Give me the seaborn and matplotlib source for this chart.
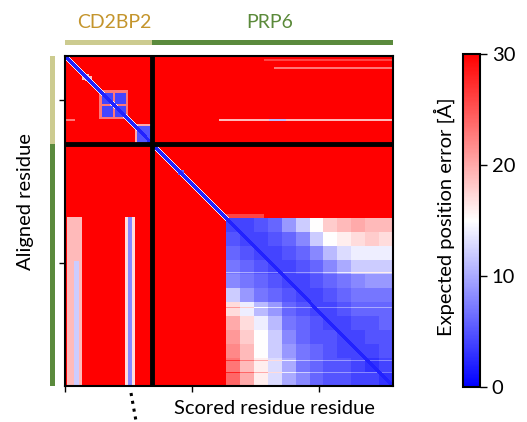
"""
PAE plot for the CD2BP2 / PRP6 complex (AlphaFold-style expected position error).
"""

import numpy as np
import matplotlib.pyplot as plt
import matplotlib.transforms as mtransforms
from matplotlib.patches import Rectangle
from matplotlib.lines import Line2D
import seaborn as sns

# ---------------------------------------------------------------------------
# Data (residue index units, rows = aligned, cols = scored)
# ---------------------------------------------------------------------------
chains = ["CD2BP2", "PRP6"]
chain_lengths = [88, 242]
chain_text_colors = ["#c4952c", "#5b8a3a"]
chain_bar_colors = ["#cccb8f", "#5a8a3c"]

background_pae = 30.0
diagonal_pae = 2.0
diagonal_halo_pae = 14.0

# rectangles: (row_start, row_end, col_start, col_end, pae)
pae_blocks = [
    # CD2BP2 intra-chain
    (18, 25, 20, 24, 19), (20, 24, 17, 27, 19),
    (34, 63, 34, 63, 23),
    (37, 48, 37, 48, 4), (37, 48, 50, 61, 4),
    (50, 61, 37, 48, 4), (50, 61, 50, 61, 4),
    (68, 88, 70, 88, 20),
    (70, 87, 72, 87, 5),
    (63, 65, 0, 10, 23),
    # CD2BP2 rows x PRP6 cols
    (3, 5, 200, 330, 26),
    (11, 13, 210, 330, 23),
    (63, 65, 155, 330, 19),
    (63, 65, 205, 222, 11),
    # PRP6 rows x CD2BP2 cols
    (161, 330, 2, 17, 19),
    (205, 330, 9, 14, 12),
    (161, 330, 60, 70, 17),
    (161, 330, 63, 67, 8),
    # PRP6 diagonal blob + edge above the folded domain
    (114, 119, 114, 120, 6),
    (158, 162, 160, 200, 26),
]

# folded PRP6 domain, coarse 12x12 grid (rows top->bottom, cols left->right)
domain_start = 162
domain_band = 14
domain_pae = [
    [4, 4, 5, 6, 9, 12, 15, 18, 19, 20, 19, 19],
    [5, 4, 4, 5, 6, 8, 12, 15, 16, 17, 18, 17],
    [6, 5, 4, 4, 5, 6, 8, 11, 13, 14, 14, 14],
    [7, 6, 5, 4, 4, 5, 6, 8, 10, 12, 12, 12],
    [8, 7, 6, 5, 4, 4, 5, 6, 7, 8, 9, 9],
    [12, 9, 7, 6, 5, 4, 4, 5, 6, 7, 7, 7],
    [17, 14, 11, 9, 6, 5, 4, 4, 5, 6, 6, 6],
    [20, 17, 14, 11, 7, 6, 5, 4, 4, 5, 5, 6],
    [21, 18, 15, 12, 8, 6, 5, 5, 4, 4, 5, 5],
    [22, 19, 15, 12, 9, 7, 6, 5, 4, 4, 4, 5],
    [23, 19, 16, 13, 10, 7, 6, 5, 5, 4, 3, 4],
    [24, 20, 16, 13, 10, 8, 6, 5, 5, 4, 4, 3],
]
domain_stripe_rows = [216, 251, 304, 316]
stripe_pae_shift = 4

# ---------------------------------------------------------------------------
n_total = sum(chain_lengths)
pae = np.full((n_total, n_total), background_pae)

for r0, r1, c0, c1, v in pae_blocks:
    pae[r0:r1, c0:c1] = v

dom = np.repeat(np.repeat(np.array(domain_pae, float), domain_band, axis=0),
                domain_band, axis=1)
d1 = domain_start + dom.shape[0]
pae[domain_start:d1, domain_start:d1] = dom
for r in domain_stripe_rows:
    pae[r, domain_start:d1] = np.minimum(pae[r, domain_start:d1] + stripe_pae_shift, 30)

# self-alignment along the diagonal (low core with a light halo)
idx = np.arange(n_total)
for k, v in ((-3, diagonal_halo_pae), (3, diagonal_halo_pae),
             (-2, diagonal_pae), (-1, diagonal_pae), (0, diagonal_pae),
             (1, diagonal_pae), (2, diagonal_pae)):
    ok = (idx + k >= 0) & (idx + k < n_total)
    pae[idx[ok], idx[ok] + k] = np.minimum(pae[idx[ok], idx[ok] + k], v)

# ---------------------------------------------------------------------------
plt.rcParams['font.family'] = ['Lato', 'DejaVu Sans']
plt.rcParams['font.size'] = 14.5

W, H = 527, 422
fig = plt.figure(figsize=(W / 100, H / 100), dpi=100)
ax = fig.add_axes([65 / W, 36 / H, 328 / W, 330 / H])
cax = fig.add_axes([463 / W, 35 / H, 17 / W, 333 / H])

sns.heatmap(pae, cmap='bwr', vmin=0, vmax=30, ax=ax, cbar_ax=cax,
            xticklabels=False, yticklabels=False,
            cbar_kws={'ticks': [0, 10, 20, 30]}, rasterized=True)

for s in ax.spines.values():
    s.set_visible(True)
    s.set_linewidth(1.5)
    s.set_color('black')

ax.set_xticks([0.5, 128, 256])
ax.set_yticks([44, 207])
ax.set_xticklabels([])
ax.set_yticklabels([])
ax.tick_params(direction='out', length=4, width=1, color='black')

# chain boundaries
ax.axvline(chain_lengths[0], color='black', lw=3.5)
ax.axhline(chain_lengths[0], color='black', lw=3.5)

# colorbar
cbar = ax.collections[0].colorbar
cbar.outline.set_visible(True)
cbar.outline.set_linewidth(1.5)
cbar.outline.set_edgecolor('black')
cax.tick_params(labelsize=14.5, length=5, width=1)

# chain bars along top and left
top_tr = mtransforms.blended_transform_factory(ax.transData, ax.transAxes)
left_tr = mtransforms.blended_transform_factory(ax.transAxes, ax.transData)
start = 0
for length, bc in zip(chain_lengths, chain_bar_colors):
    ax.add_patch(Rectangle((start, 1.033), length, 0.016, transform=top_tr,
                           color=bc, clip_on=False, lw=0))
    ax.add_patch(Rectangle((-0.046, start), 0.016, length, transform=left_tr,
                           color=bc, clip_on=False, lw=0))
    start += length

for name, tc, xc in zip(chains, chain_text_colors, [114, 270]):
    fig.text(xc / W, 1 - 22 / H, name, color=tc, fontsize=14,
             ha='center', va='center')

fig.text(25 / W, 1 - 202 / H, "Aligned residue", rotation=90,
         ha='center', va='center', fontsize=14.5)
fig.text(274 / W, 1 - 409 / H, "Scored residue residue",
         ha='center', va='center', fontsize=14.5)
fig.text(444 / W, 1 - 217 / H, "Expected position error [Å]", rotation=90,
         ha='center', va='center', fontsize=14.5)

# dotted ellipsis under the CD2BP2 stripe
fig.add_artist(Line2D([131 / W, 136 / W], [1 - 393 / H, 1 - 421 / H],
                      transform=fig.transFigure, color='black',
                      linestyle=(0, (1, 1.6)), lw=2.2))

fig.savefig('out.png', dpi=100)
